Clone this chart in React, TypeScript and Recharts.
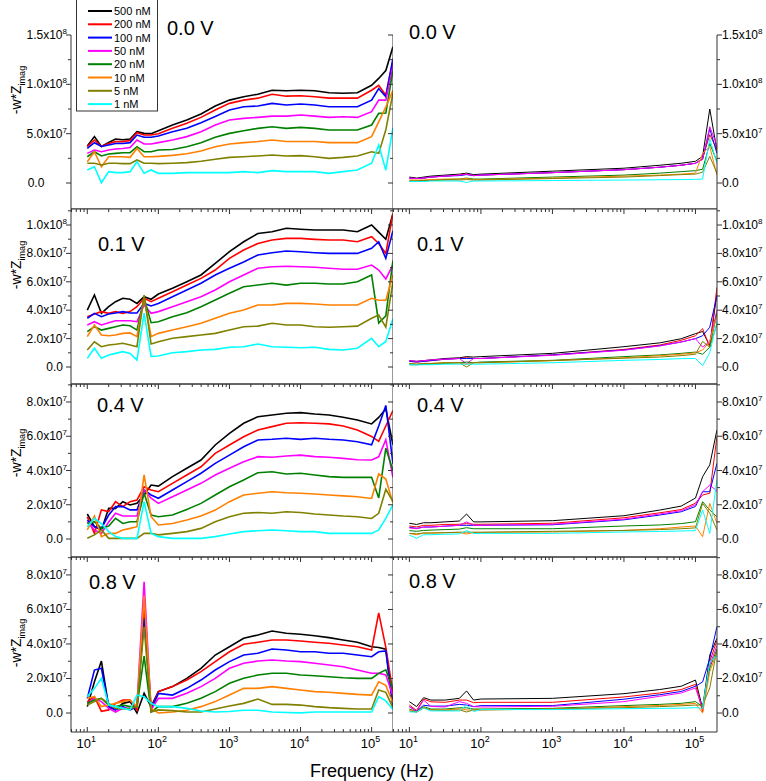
import React from 'react';
import { LineChart, Line, XAxis, YAxis } from 'recharts';

const seriesNames = ['500 nM', '200 nM', '100 nM', '50 nM', '20 nM', '10 nM', '5 nM', '1 nM'];
const seriesColors = ['#000000', '#ff0000', '#0000ff', '#ff00ff', '#008000', '#ff8000', '#808000', '#00ffff'];

// frequency points (Hz)
const leftFreq = [10, 12.6, 15.8, 20, 25, 31.6, 40, 50, 63, 79, 100, 158, 251, 398, 631, 1000, 1585, 2512, 3981, 6310, 10000, 15849, 25119, 39811, 63096, 100000, 125893, 158489, 199526];
const rightFreq = [10, 12.6, 15.8, 20, 31.6, 50, 63, 79, 100, 1000, 10000, 31623, 63096, 100000, 125893, 158489, 199526];

// -w*Zimag in units of 1e6, one row per concentration (order of seriesNames)
const v00Left = [
  [37.5, 47, 37, 41, 44.6, 43.9, 44.6, 52, 50.3, 50, 53, 58.8, 63.8, 70, 78, 84, 87.4, 90, 94, 93.5, 94, 93.5, 91.5, 91, 91.5, 99, 106, 114, 138],
  [36.9, 43.6, 37, 40, 41.9, 41.9, 43, 51, 48.6, 48.6, 50, 55.4, 60.5, 66.5, 74, 80.7, 84, 86, 90, 88, 88.4, 87.4, 86, 86, 86, 94, 99, 89, 124],
  [35, 40.8, 37, 38.5, 40, 40, 40.9, 48.6, 46.3, 46.3, 47.6, 52, 55.4, 61, 67.3, 74, 77.3, 78, 80.7, 79, 80, 79, 77.3, 77.3, 77.3, 84, 95.7, 87.4, 126],
  [30, 33.4, 31.7, 33.4, 34.4, 35, 36, 43.6, 39.5, 39.5, 40.9, 43.6, 47, 52, 58.8, 63.8, 65.5, 66.5, 67.8, 67.8, 68.9, 67.8, 66.5, 67.1, 66.5, 72.3, 84, 84, 118],
  [26.6, 31.7, 27.4, 29.4, 30, 30.7, 30.7, 36.8, 31.7, 31.7, 33.4, 34, 36.8, 40.9, 46.3, 50.3, 53, 55.4, 57, 55.4, 56.4, 55.4, 53.7, 53.7, 53.7, 58.8, 70.6, 71, 114],
  [21.6, 31.7, 16.5, 26.6, 26.6, 26.6, 26, 35, 26.6, 26.6, 27, 28, 29.7, 32.4, 36.8, 39.5, 40.9, 42, 43.6, 42, 42, 42, 40.9, 40.9, 40.9, 47, 62, 77, 94],
  [20, 20, 18.2, 20, 20, 19.6, 19.6, 23.3, 20, 20, 19.6, 20, 20.7, 22, 24, 26, 26.6, 27.4, 28.4, 27.4, 27.7, 26.6, 25, 26, 27.4, 31.7, 30, 54, 91],
  [13.2, 16.5, 0.3, 11.5, 10.5, 10.5, 11.5, 21.6, 9.8, 13.2, 9.8, 9.8, 10.5, 10.5, 10.5, 10.5, 11.5, 10.5, 12.5, 11.5, 11.5, 11.5, 9.8, 11.5, 13.2, 20, 38.5, 13, 56],
];
const v00Right = [
  [6, 5, 6, 7, 8, 9, 10, 8.5, 9, 12, 15, 18, 20, 22, 27, 75, 33],
  [5, 4.5, 5, 6, 7, 8, 9, 7.5, 8, 10.5, 13.5, 16, 18, 20, 25, 49, 34],
  [5, 4.5, 5, 6, 7, 7.5, 8.5, 7.5, 8, 10.5, 13.5, 16, 18, 20, 24, 55, 30],
  [5, 4.5, 5, 6, 7, 8, 9, 7.5, 8, 10.5, 13.5, 16, 18, 20, 24, 57, 38],
  [2, 2, 2.5, 3, 3.5, 4, 5, 4, 4, 6, 8, 10, 11.5, 12.5, 14, 40, 22],
  [3, 3, 3, 3.5, 4, 4, 4.5, 3.5, 3.5, 5, 7, 8, 9, 10, 30, 37, 8],
  [2, 2, 2.5, 2.5, 3, 3, 3.5, 3, 3, 4.5, 6, 7.5, 8.5, 9, 11, 27, 10],
  [1.5, 1.5, 1.5, 2, 2, 2, 0.5, 2, 2, 2.5, 3, 3.3, 3.5, 3.7, 4, 45, 20],
];
const v01Left = [
  [40, 50.7, 37.8, 42.5, 46, 48.4, 47.7, 44.8, 49.5, 47.7, 51.4, 55.4, 60, 64.8, 73, 81.2, 88.2, 94, 95.3, 97.7, 97, 96.5, 96.5, 96.5, 95.3, 100, 95, 90, 108],
  [35.4, 37.3, 39, 37.8, 39, 37.8, 39, 42.5, 48.4, 46, 48.4, 53, 57.7, 62.4, 68.3, 76.5, 82.4, 87, 89.4, 90.6, 90.6, 89.9, 89.4, 89.4, 88.2, 91.8, 87, 80, 108],
  [34.3, 37.8, 35.4, 37.3, 38, 39, 38, 38, 44.8, 43, 44.8, 49.5, 54.2, 59, 64.8, 69.5, 74, 78.9, 80.5, 81.7, 81.2, 80.5, 80, 80, 80, 83.6, 88.2, 76.5, 96],
  [29.6, 31.9, 29.6, 31.2, 32.6, 32.6, 32.6, 31.9, 43.7, 37.8, 39, 42.5, 46, 49.5, 54.2, 60, 64.8, 69.5, 70.6, 71, 70.6, 70.2, 69.5, 68.8, 68.8, 71.8, 68.3, 62, 72],
  [24.9, 28.4, 26, 27.2, 28.4, 29.6, 29, 26, 48.5, 31.2, 31.9, 35.4, 38.2, 42.5, 47.2, 51.9, 56.5, 57.7, 59, 57.7, 59, 59, 58.5, 58.5, 60, 64.8, 31, 36, 75],
  [21.4, 29.6, 22.5, 22, 22.5, 23.7, 24, 21.4, 48.5, 21.4, 23.7, 26, 28.4, 30.8, 34.3, 37.8, 40.1, 43.7, 43.7, 44.8, 44.8, 44.4, 43.7, 43.7, 43.7, 48.4, 47, 47, 65],
  [12, 17.8, 14.3, 15.5, 16, 16.7, 15.5, 14.3, 50.7, 16.2, 17.8, 20.2, 21.4, 22.5, 23.7, 26, 28.4, 28.8, 30.8, 29.6, 29.6, 28.4, 28, 28.4, 28.8, 34.3, 36.6, 28, 60],
  [6.1, 13.2, 6.1, 8.5, 9.6, 10.8, 9.6, 4.9, 38, 7.5, 7.7, 10, 10.8, 12, 12.4, 13.9, 14.3, 16.2, 14.3, 13.9, 13.6, 13.9, 12.4, 12, 13.2, 20.2, 14.3, 18, 34],
];
const v01Right = [
  [4.5, 4, 4.5, 5, 6, 6.5, 7.3, 7, 7.3, 9.6, 14.3, 17, 19.9, 23.5, 25, 15, 52],
  [4, 3.5, 4, 4.5, 5.5, 6, 6.5, 6, 6, 8.5, 12.4, 15.5, 18.8, 22, 27, 14, 56],
  [4, 3.5, 4, 4.5, 5.5, 6, 6, 6, 6, 8.5, 12, 15, 17.6, 20, 22, 28, 50],
  [4.5, 4, 4.5, 5, 5.5, 6, 2.3, 6, 6, 8.2, 11.8, 14.8, 17.6, 20, 14, 18, 40],
  [1.6, 1.6, 2, 2, 2.5, 3, 3.5, 3, 3.5, 4.7, 7.3, 8.5, 9.6, 10.5, 9, 14, 38],
  [2.5, 2, 2.5, 2.5, 3, 3, 2, 3, 3, 4.5, 6.5, 8, 9, 10, 12, 18, 36],
  [2.5, 2, 2.5, 2.5, 3, 3, 0, 3, 3, 4.5, 6.2, 7, 8, 9, 18, 14, 30],
  [1.6, 1.5, 1.6, 1.6, 2, 2, 2, 2, 2, 3, 4.7, 5.3, 5.9, 6, 1, 10, 32],
];
const v04Left = [
  [14.6, 7.2, 5.3, 17.9, 17.9, 21.8, 19.9, 20.8, 25.7, 31.5, 30.9, 36.4, 41.3, 46.1, 54.9, 61.7, 67.6, 71.4, 72.4, 73.4, 73.8, 73, 72.4, 71.1, 69.5, 67.2, 71, 76, 55],
  [13, 3.3, 17, 16, 21.8, 18.9, 21.8, 22.8, 30.5, 28.6, 27.6, 32.5, 37.4, 42.2, 50, 54.9, 59.7, 63.6, 65.6, 67.6, 67.9, 67.6, 67.2, 66, 63.6, 59.9, 57, 66, 75],
  [11, 7.2, 6.2, 14, 18.9, 18.9, 17, 17, 28.6, 25.7, 23.8, 28.6, 33.5, 38.4, 44.2, 49, 53.9, 57.8, 58.2, 58.8, 58.2, 58.8, 58.2, 57.8, 56.8, 55, 66, 78, 44],
  [10, 5.3, 3.3, 10, 15, 13.4, 13.4, 13.4, 28.6, 23.8, 20.8, 24.7, 28.6, 32.5, 37.4, 41.3, 45.1, 48.1, 47.7, 48.5, 49, 48.1, 47.7, 47.1, 46.3, 46.1, 48, 58, 36],
  [9.1, 10.1, 6.2, 7.6, 12.1, 9.1, 10.1, 10.1, 26.7, 14, 13, 14, 17.3, 20.8, 25.7, 30.5, 34.5, 38.7, 39.3, 38, 38.4, 37.4, 36.4, 36, 36, 36, 24, 53, 40],
  [5.3, 13.4, 1.4, 3.3, 3.3, 5.3, 6.2, 7.2, 37.4, 13, 8.2, 9.1, 11.1, 13.4, 16.9, 21.8, 25.7, 26.7, 27.6, 27, 26.7, 26.3, 25.7, 25.2, 24.7, 23.7, 38, 35, 21],
  [0.4, 2.4, 5.3, 0.4, 0.4, 0.4, 0.4, 0.4, 3.3, 3.3, 2.4, 3.3, 4.3, 6.2, 10.1, 13, 15, 15.5, 15, 15.9, 15.5, 14.6, 14, 13.4, 13, 12, 15, 29, 22],
  [7.2, 12.1, 9, 4.3, 1.4, 0.4, 0.4, 0.4, 21.8, 3.3, 1.4, 0.4, 0.4, 0.4, 1.4, 2.9, 4.3, 4.8, 5.3, 4.8, 4.3, 4.3, 3.3, 3.3, 3.3, 3.3, 5.3, 12, 20],
];
const v04Right = [
  [9.2, 8.5, 9.5, 9.5, 10, 10.5, 14.6, 10, 10, 10.7, 13.6, 16.9, 19.2, 23.9, 36.4, 43.3, 63.6],
  [7.6, 7, 8, 8, 8.5, 8.6, 9, 8.6, 8.6, 9.2, 12.4, 15.3, 17.2, 20.9, 25.7, 26.7, 59.7],
  [6.8, 6.2, 7, 7, 7.5, 8, 8, 8, 8, 8.3, 11.2, 14, 15.9, 19, 27.6, 27.6, 44.2],
  [6.5, 6, 7, 7, 7.5, 8, 10, 8, 8, 8.6, 11.6, 14.6, 16.5, 20, 27.6, 31.5, 28],
  [4.9, 4.5, 5, 5.2, 5.5, 5.8, 6.6, 6, 6, 6, 7.6, 8.2, 9, 10.1, 21.8, 16.9, 13],
  [3.3, 2.5, 3.5, 3.5, 3.7, 3.8, 2.9, 3.8, 3.8, 4.1, 5, 6, 7, 7.6, 1.4, 20.8, 9.1],
  [3.3, 3, 3.5, 3.5, 3.7, 4, 4, 4, 4, 4.5, 5, 5.5, 6, 6.5, 20.8, 15, 5.3],
  [2.3, 0.4, 2.5, 2.5, 2.8, 3, 4.9, 3.2, 3.3, 3.3, 4.1, 4.4, 4.7, 4.9, 17, 3.3, 34.5],
];
const v08Left = [
  [3.7, 18.1, 30.1, 3.7, 1.8, 5.6, 6.6, 0, 11.4, 3.7, 12.4, 15.3, 20.1, 25.9, 33.6, 38.4, 43.3, 45.2, 47.5, 46.2, 45.6, 44.8, 43.7, 42.3, 41, 38.4, 38, 37, 5],
  [6.6, 9.5, 1, 1.8, 5.6, 7.5, 7.5, 1.8, 60, 1.8, 12.4, 15.3, 19.1, 24, 29.8, 35.5, 39.8, 41, 42.3, 42.3, 41.7, 41, 40.4, 39.4, 38.4, 36.5, 58, 38, 12],
  [8.5, 24.9, 25.9, 3.7, 1.8, 3.7, 1.8, 3.7, 55, 1.8, 11.4, 10.4, 14.3, 19.1, 24.9, 29.8, 33.6, 34.6, 37.1, 36.5, 35.5, 35.5, 34.6, 34.6, 33.6, 32.6, 35.5, 36, 3],
  [5.6, 8.5, 6.6, 2.7, 0.6, 2.7, 2.7, 4.6, 76, 1.8, 8.5, 8.5, 11.4, 15.3, 20.1, 25.9, 28.8, 30.1, 30.7, 30.1, 29.8, 28.8, 27.8, 26.8, 24.9, 23, 23, 22, 10],
  [5.6, 7.5, 8.5, 4.6, 3.7, 4.6, 3.7, 3.7, 33, 0.6, 3.7, 3.7, 5.6, 8.5, 12.4, 17.2, 20.1, 22, 23, 23, 22, 21.6, 21, 20.4, 20.1, 20.1, 23, 25, 14],
  [8.5, 9.5, 3.7, 4.6, 5.6, 6.6, 7.5, 3.7, 68, 2.7, 0, 0.6, 1.6, 3.7, 6.6, 10.4, 14.3, 14.3, 15.3, 14.3, 13.3, 12.4, 12, 11.4, 10.8, 10.4, 18.1, 16, 6],
  [4.6, 6.6, 8.5, 5.6, 2.7, 2.3, 2.7, 3.7, 50, 0.6, 1.8, 1.4, 0.6, 0.6, 2.3, 4.1, 5.6, 8.1, 5, 5, 4.6, 3.7, 3.1, 2.7, 2.3, 2.3, 13.3, 12, 3],
  [9.5, 14.3, 20.1, 4.6, 3.7, 2.7, 1.8, 10.4, 9.5, 5.6, 3.7, 3.7, 2.7, 1.2, 0.6, 0.9, 1.6, 1.6, 0.6, 0.3, 0.1, 0.6, 0.6, 0.6, 0.6, 0.6, 9.5, 7, 2],
];
const v08Right = [
  [6.6, 3.7, 8.9, 7.5, 7.5, 8.5, 12.8, 7.5, 8.1, 8.5, 11.2, 13.6, 15.5, 19.1, 2.7, 33.6, 43.3],
  [4.6, 1.5, 8.1, 6.5, 6.2, 7.5, 7.5, 6, 6.2, 6.2, 9.3, 11.6, 13.6, 16.6, 0.6, 29.8, 42],
  [3.7, 1, 4.5, 4, 4, 5, 4.6, 3.7, 4.3, 4.3, 8, 10.6, 12.5, 15.5, 18, 31.7, 50],
  [3.7, 0.8, 7.5, 3.8, 3.5, 6.6, 5.6, 3.7, 3.5, 3.9, 6.6, 9.7, 11.6, 14.5, 2.7, 27.8, 39],
  [2.3, 0.6, 3.7, 2.3, 2.3, 3, 3, 2.3, 2.3, 2.7, 4.3, 5, 5.6, 6.6, 3.7, 26, 37],
  [1.8, 0.6, 3.2, 1.8, 1.8, 2.5, 1.8, 1.8, 1.8, 2.3, 3.7, 4.4, 5, 5.6, 0, 24, 35],
  [1.2, 0.5, 2.9, 1.8, 1.5, 1.8, 0.6, 1.8, 1.8, 2.3, 3.1, 3.7, 4.2, 4.6, 4.6, 14.5, 37],
  [0.6, 0.6, 2.9, 1.2, 1.2, 1.2, 4.6, 0.8, 2, 2, 2.5, 2.7, 2.8, 3.1, 2.7, 29.8, 33],
];

const xMajor = [10, 100, 1000, 10000, 100000];
const xMinor = [1, 10, 100, 1000, 10000]
  .flatMap((d) => [2, 3, 4, 5, 6, 7, 8, 9].map((m) => m * d))
  .filter((v) => v > 5.9);
const xTicks = [...xMajor, ...xMinor];

const AXIS = '#333';
const FONT = '"Liberation Sans", Arial, sans-serif';
const X_DOMAIN = [5.9, 200000];

const rows = [
  { label: '0.0 V', left: v00Left, right: v00Right, domain: [-26.35, 150], major: [0, 50, 100, 150], minor: [25, 75, 125], top: 0, height: 209, mTop: 35, mBottom: 0, first: true, last: false },
  { label: '0.1 V', left: v01Left, right: v01Right, domain: [-11.97, 111.27], major: [0, 20, 40, 60, 80, 100], minor: [10, 30, 50, 70, 90, 110], top: 199, height: 195, mTop: 10, mBottom: 10, first: false, last: false },
  { label: '0.4 V', left: v04Left, right: v04Right, domain: [-10.5, 90.5], major: [0, 20, 40, 60, 80], minor: [10, 30, 50, 70, 90], top: 374, height: 193, mTop: 10, mBottom: 10, first: false, last: false },
  { label: '0.8 V', left: v08Left, right: v08Right, domain: [-11, 90.4], major: [0, 20, 40, 60, 80], minor: [10, 30, 50, 70, 90], top: 547, height: 234, mTop: 10, mBottom: 49, first: false, last: true },
];

// where the "0.x V" tags and the y titles sit
const tagPos = [
  { lx: 167, ly: 35, rx: 409, ry: 39, titleY: 90 },
  { lx: 98, ly: 251, rx: 417, ry: 251, titleY: 265 },
  { lx: 97, ly: 412, rx: 417, ry: 412, titleY: 453 },
  { lx: 89, ly: 589, rx: 409, ry: 588, titleY: 643 },
];

function toRows(freq: number[], series: number[][]) {
  return freq.map((f, i) => {
    const row: Record<string, number> = { f };
    series.forEach((s, k) => {
      row[`s${k}`] = s[i];
    });
    return row;
  });
}

function sciParts(v: number) {
  const val = v * 1e6;
  const e = Math.floor(Math.log10(val) + 1e-9);
  return { m: (val / Math.pow(10, e)).toFixed(1), e };
}

function SciText({ x, y, v, anchor, firstRow }: { x: number; y: number; v: number; anchor: 'start' | 'end'; firstRow?: boolean }) {
  if (v === 0) {
    // origin put the zero label of the top-left axis off centre
    if (anchor === 'end') {
      return (
        <text x={firstRow ? x - 31 : x - 4} y={y} textAnchor={firstRow ? 'middle' : 'end'} fontSize={12} fontFamily={FONT} fill="#000">
          0.0
        </text>
      );
    }
    return (
      <text x={x} y={y} textAnchor="start" fontSize={12} fontFamily={FONT} fill="#000">
        0.0
      </text>
    );
  }
  const { m, e } = sciParts(v);
  return (
    <text x={x} y={y} textAnchor={anchor} fontSize={12} fontFamily={FONT} fill="#000">
      {m}x10
      <tspan dy={-5} fontSize={8}>
        {e}
      </tspan>
    </text>
  );
}

function YTick(props: any) {
  const { x, y, payload, majors, side, firstRow } = props;
  const v = payload.value;
  const major = majors.includes(v);
  const len = major ? 5 : 3;
  if (side === 'left') {
    return (
      <g>
        <line x1={x} x2={x - len} y1={y} y2={y} stroke={AXIS} />
        {major && <SciText x={x - 4} y={y + 4} v={v} anchor="end" firstRow={firstRow} />}
      </g>
    );
  }
  if (side === 'right') {
    return (
      <g>
        <line x1={x} x2={x + len} y1={y} y2={y} stroke={AXIS} />
        {major && <SciText x={x + 5} y={y + 4} v={v} anchor="start" />}
      </g>
    );
  }
  // inner edge, ticks point into the left panel
  return <line x1={x} x2={x - len} y1={y} y2={y} stroke={AXIS} />;
}

function XTick(props: any) {
  const { x, y, payload, where } = props;
  const v = payload.value;
  const major = xMajor.includes(v);
  const len = major ? 5 : 3;
  if (where === 'top') {
    return <line x1={x} x2={x} y1={y} y2={y + len} stroke={AXIS} />;
  }
  return (
    <g>
      <line x1={x} x2={x} y1={y} y2={y - len} stroke={AXIS} />
      {major && (
        <text x={x - 1} y={y + 16} textAnchor="middle" fontSize={13} fontFamily={FONT} fill="#000">
          10
          <tspan dy={-6} fontSize={9}>
            {Math.round(Math.log10(v))}
          </tspan>
        </text>
      )}
    </g>
  );
}

function Panel({ row, side }: { row: (typeof rows)[number]; side: 'left' | 'right' }) {
  const isLeft = side === 'left';
  const data = toRows(isLeft ? leftFreq : rightFreq, isLeft ? row.left : row.right);
  const yTicks = [...row.major, ...row.minor];
  return (
    <div style={{ position: 'absolute', left: isLeft ? 0 : 393, top: row.top }}>
      <LineChart
        width={isLeft ? 393 : 373}
        height={row.height}
        data={data}
        margin={{ top: row.mTop, right: 0, bottom: row.mBottom, left: 0 }}
      >
        <XAxis
          dataKey="f"
          type="number"
          scale="log"
          domain={X_DOMAIN}
          allowDataOverflow
          mirror
          ticks={xTicks}
          interval={0}
          tickSize={0}
          tickMargin={0}
          tickLine={false}
          axisLine={{ stroke: AXIS }}
          tick={row.last ? (p: any) => <XTick {...p} where="bottom" /> : false}
        />
        {!row.first && (
          <XAxis
            xAxisId="top"
            orientation="top"
            dataKey="f"
            type="number"
            scale="log"
            domain={X_DOMAIN}
            allowDataOverflow
            mirror
            ticks={xTicks}
            interval={0}
            tickSize={0}
            tickMargin={0}
            tickLine={false}
            axisLine={{ stroke: AXIS }}
            tick={(p: any) => <XTick {...p} where="top" />}
          />
        )}
        <YAxis
          orientation={isLeft ? 'left' : 'right'}
          width={isLeft ? 71 : 49}
          type="number"
          domain={row.domain}
          allowDataOverflow
          ticks={yTicks}
          interval={0}
          tickSize={0}
          tickMargin={0}
          tickLine={false}
          axisLine={{ stroke: AXIS }}
          tick={(p: any) => <YTick {...p} majors={row.major} side={side} firstRow={row.first} />}
        />
        {isLeft && (
          <YAxis
            yAxisId="inner"
            orientation="right"
            mirror
            type="number"
            domain={row.domain}
            allowDataOverflow
            ticks={yTicks}
            interval={0}
            tickSize={0}
            tickMargin={0}
            tickLine={false}
            axisLine={{ stroke: AXIS }}
            tick={(p: any) => <YTick {...p} majors={row.major} side="inner" />}
          />
        )}
        {seriesNames.map((name, k) => (
          <Line
            key={name}
            type="linear"
            dataKey={`s${k}`}
            name={name}
            stroke={seriesColors[k]}
            strokeWidth={isLeft ? 1.6 : 1}
            dot={false}
            isAnimationActive={false}
          />
        ))}
      </LineChart>
    </div>
  );
}

function Overlay() {
  return (
    <svg
      width={766}
      height={781}
      style={{ position: 'absolute', left: 0, top: 0, pointerEvents: 'none' }}
      fontFamily={FONT}
    >
      <rect x={76.5} y={-0.5} width={81} height={111.5} fill="#fff" stroke={AXIS} />
      {seriesNames.map((name, i) => {
        const cy = 11 + i * 13.3;
        return (
          <g key={name}>
            <line x1={88} x2={112} y1={cy} y2={cy} stroke={seriesColors[i]} strokeWidth={2} />
            <text x={114} y={cy + 4} fontSize={11} fill="#000">
              {name}
            </text>
          </g>
        );
      })}
      {rows.map((row, i) => (
        <g key={row.label}>
          <text x={tagPos[i].lx} y={tagPos[i].ly} fontSize={20} fill="#000">
            {row.label}
          </text>
          <text x={tagPos[i].rx} y={tagPos[i].ry} fontSize={20} fill="#000">
            {row.label}
          </text>
          <text
            transform={`translate(21 ${tagPos[i].titleY}) rotate(-90)`}
            textAnchor="middle"
            fontSize={14}
            fill="#000"
          >
            -w*Z
            <tspan dy={4} fontSize={9}>
              imag
            </tspan>
          </text>
        </g>
      ))}
      <text x={372} y={777} textAnchor="middle" fontSize={18} fill="#000">
        Frequency (Hz)
      </text>
    </svg>
  );
}

export default function App() {
  return (
    <div style={{ position: 'absolute', left: 0, top: 0, width: 766, height: 781, background: '#fff' }}>
      {rows.map((row) => (
        <React.Fragment key={row.label}>
          <Panel row={row} side="left" />
          <Panel row={row} side="right" />
        </React.Fragment>
      ))}
      <Overlay />
    </div>
  );
}
